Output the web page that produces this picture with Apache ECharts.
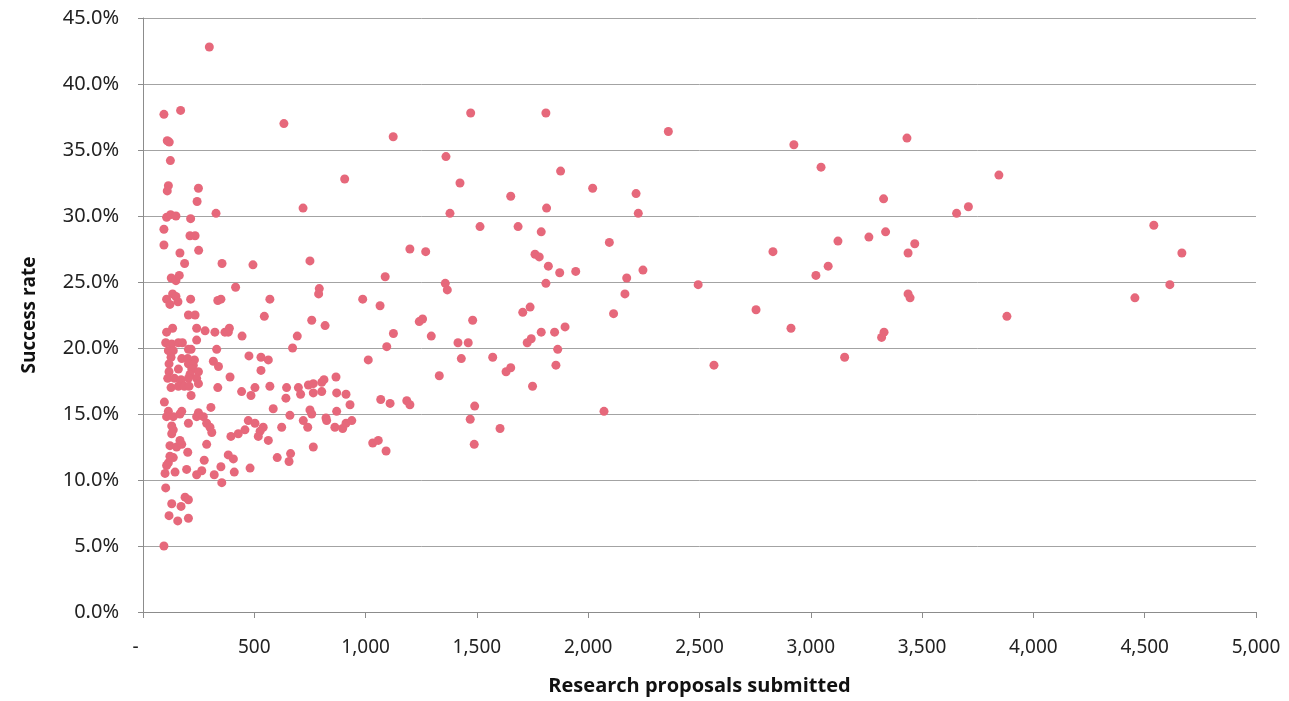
<!DOCTYPE html>
<html>
<head>
<meta charset="utf-8">
<script src="https://cdn.jsdelivr.net/npm/echarts@6/dist/echarts.min.js"></script>
<style>
html,body{margin:0;padding:0;background:#fff;}
#chart{width:1289px;height:701px;}
</style>
</head>
<body>
<div id="chart"></div>
<script>
// Axis titles and ticks
const xAxisTitle = "Research proposals submitted";
const yAxisTitle = "Success rate";
const xTicks = [0, 500, 1000, 1500, 2000, 2500, 3000, 3500, 4000, 4500, 5000];
const yTicks = [0, 5, 10, 15, 20, 25, 30, 35, 40, 45];

// [proposals submitted, success rate %]
const groupTopLeft = [
  [298,42.8],[94,37.7],[169,38.0],[633,37.0],[109,35.7],[118,35.6],[123,34.2],[114,32.3],[109,31.9],
  [249,32.1],[243,31.1],[328,30.2],[719,30.6],[106,29.9],[124,30.1],[148,30.0],[214,29.8]
];
const groupUpperLeft = [
  [94,29.0],[211,28.5],[234,28.5],[94,27.8],[166,27.2],[250,27.4],[187,26.4],[355,26.4],[494,26.3],
  [750,26.6],[127,25.3],[148,25.1],[163,25.5],[416,24.6],[792,24.5],[789,24.1],[106,23.7],[133,24.1],
  [148,23.9],[157,23.5],[121,23.3],[214,23.7],[336,23.6],[350,23.7],[570,23.7],[204,22.5],[234,22.5],
  [545,22.4],[758,22.1],[818,21.7],[133,21.5],[106,21.2],[241,21.5],[279,21.3],[323,21.2],[368,21.2],
  [388,21.5],[383,21.2],[445,20.9],[693,20.9],[672,20.0],[331,19.9]
];
const groupCluster = [
  [102,20.4],[129,20.3],[159,20.4],[177,20.4],[241,20.6],[114,19.8],[136,19.8],[204,19.9],[216,19.9],
  [126,19.3],[174,19.2],[201,19.2],[231,19.1],[117,18.8],[204,18.8],[226,18.7],[117,18.2],[159,18.4],
  [219,18.4],[249,18.2],[211,18.0],[111,17.7],[141,17.7],[171,17.6],[204,17.7],[241,17.7],[126,17.0],
  [159,17.1],[186,17.1],[207,17.1],[249,17.3],[216,16.4],
  [316,19.0],[339,18.6],[391,17.8],[336,17.0],[476,19.4],[530,19.3],[563,19.1],[530,18.3],[570,17.1],
  [443,16.7],[485,16.4],[503,17.0]
];
const groupLowerLeft = [
  [96,15.9],[585,15.4],[114,15.2],[106,14.8],[136,14.8],[166,15.0],[174,15.2],[249,15.1],[241,14.8],
  [271,14.8],[286,14.3],[301,14.0],[309,13.6],[305,15.5],[204,14.3],[129,14.1],[136,13.8],[129,13.5],
  [473,14.5],[503,14.3],[458,13.8],[526,13.7],[540,14.0],[518,13.3],[563,13.0],[395,13.3],[428,13.5],
  [121,12.6],[151,12.5],[174,12.7],[166,13.0],[286,12.7],[201,12.1],[121,11.8],[114,11.3],[106,11.1],
  [136,11.7],[383,11.9],[406,11.6],[275,11.5],[350,11.0],[481,10.9],[99,10.5],[144,10.6],[196,10.8],
  [241,10.4],[264,10.7],[320,10.4],[410,10.6],[354,9.8],[102,9.4],[129,8.2],[171,8.0],[189,8.7],
  [204,8.5],[117,7.3],[156,6.9],[204,7.1],[94,5.0]
];
const groupMidLow = [
  [645,17.0],[642,16.2],[698,17.0],[708,16.5],[743,17.2],[765,17.3],[765,16.6],[803,17.4],[813,17.6],
  [803,16.7],[867,17.8],[870,16.6],[912,16.5],[930,15.7],[870,15.2],[822,14.7],[825,14.5],[862,14.0],
  [897,13.9],[912,14.3],[938,14.5],[750,15.3],[758,15.0],[720,14.5],[740,14.0],[660,14.9],[623,14.0],
  [603,11.7],[663,12.0],[656,11.4],[765,12.5],[1068,16.1],[1110,15.8],[1032,12.8],[1057,13.0],[1092,12.2]
];
const groupMidHigh = [
  [1472,37.8],[1810,37.8],[1124,36.0],[1361,34.5],[906,32.8],[1424,32.5],[1876,33.4],[1652,31.5],
  [1813,30.6],[1379,30.2],[1514,29.2],[1685,29.2],[1789,28.8],[1199,27.5],[1270,27.3],[1761,27.1],
  [1780,26.9],[1821,26.2],[1872,25.7],[1944,25.8],[1088,25.4],[1358,24.9],[1367,24.4],[1810,24.9],
  [987,23.7]
];
const groupMid = [
  [1065,23.2],[1706,22.7],[1739,23.1],[1241,22.0],[1256,22.2],[1481,22.1],[1125,21.1],[1295,20.9],
  [1789,21.2],[1849,21.2],[1896,21.6],[1726,20.4],[1744,20.7],[1095,20.1],[1415,20.4],[1461,20.4],
  [1863,19.9],[1012,19.1],[1430,19.2],[1571,19.3],[1631,18.2],[1652,18.5],[1855,18.7],[1331,17.9],
  [1750,17.1],[1185,16.0],[1199,15.7],[1490,15.6],[1470,14.6],[1604,13.9],[1488,12.7]
];
const groupRight = [
  [2360,36.4],[2924,35.4],[3432,35.9],[3046,33.7],[2020,32.1],[2215,31.7],[2225,30.2],[3327,31.3],
  [3655,30.2],[3708,30.7],[2095,28.0],[2830,27.3],[3122,28.1],[3261,28.4],[3336,28.8],[3437,27.2],
  [3467,27.9],[2173,25.3],[2246,25.9],[2165,24.1],[2494,24.8],[3023,25.5],[3078,26.2],[3437,24.1],
  [3446,23.8],[2114,22.6],[2754,22.9],[2911,21.5],[3318,20.8],[3329,21.2],[2565,18.7],[3152,19.3],
  [2071,15.2]
];
const groupFarRight = [
  [3881,22.4],[3845,33.1],[4456,23.8],[4541,29.3],[4613,24.8],[4667,27.2]
];

const allPoints = [].concat(groupTopLeft, groupUpperLeft, groupCluster, groupLowerLeft,
  groupMidLow, groupMidHigh, groupMid, groupRight, groupFarRight);

const chart = echarts.init(document.getElementById('chart'), null, {renderer: 'canvas'});
const labelFont = '"Noto Sans", "Open Sans", sans-serif';
chart.setOption({
  backgroundColor: '#ffffff',
  animation: false,
  grid: {left: 143, right: 33, top: 18, bottom: 88, containLabel: false},
  xAxis: {
    type: 'value',
    min: xTicks[0], max: xTicks[xTicks.length - 1], interval: 500,
    name: xAxisTitle, nameLocation: 'middle', nameGap: 64,
    nameTextStyle: {fontFamily: '"Open Sans", sans-serif', fontWeight: 'bold', fontSize: 20, color: '#111'},
    axisLine: {show: true, lineStyle: {color: '#8c8c8c', width: 1}},
    axisTick: {show: true, length: 6, lineStyle: {color: '#8c8c8c'}},
    splitLine: {show: false},
    axisLabel: {
      margin: 26, fontSize: 19, color: '#222', fontFamily: labelFont,
      formatter: v => v === 0 ? '-\u00a0\u00a0\u00a0' : v.toLocaleString('en-US')
    }
  },
  yAxis: {
    type: 'value',
    min: yTicks[0], max: yTicks[yTicks.length - 1], interval: 5,
    name: yAxisTitle, nameLocation: 'middle', nameGap: 104, nameRotate: 90,
    nameTextStyle: {fontFamily: '"Open Sans", sans-serif', fontWeight: 'bold', fontSize: 19, color: '#111'},
    axisLine: {show: true, lineStyle: {color: '#8c8c8c', width: 1}},
    axisTick: {show: true, length: 5, lineStyle: {color: '#8c8c8c'}},
    splitLine: {show: true, lineStyle: {color: '#a3a3a3', width: 1}},
    axisLabel: {
      margin: 24, fontSize: 20, color: '#222', fontFamily: labelFont,
      formatter: v => v.toFixed(1) + '%'
    }
  },
  series: [{
    type: 'scatter',
    data: allPoints,
    symbol: 'circle',
    symbolSize: 9,
    itemStyle: {color: '#e6687b', opacity: 1},
    emphasis: {disabled: true}
  }]
});
</script>
</body>
</html>
